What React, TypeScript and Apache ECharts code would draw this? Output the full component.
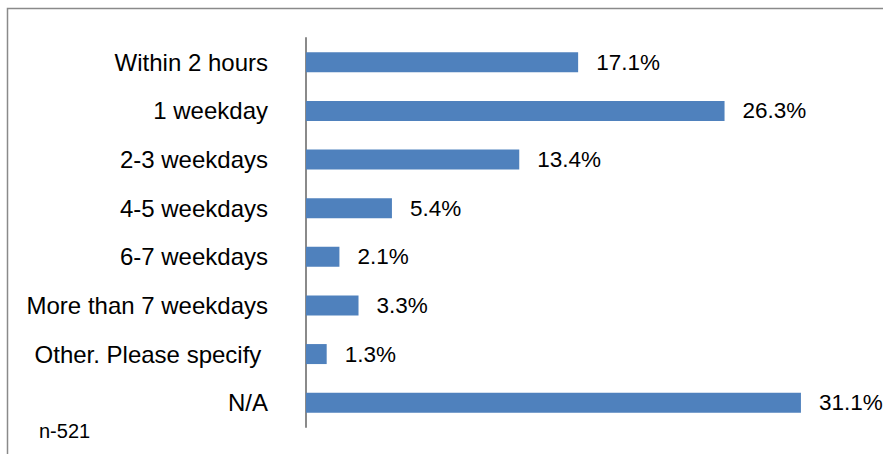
import React, { useEffect, useRef } from "react";
import * as echarts from "echarts";

const categories = [
  "Within 2 hours",
  "1 weekday",
  "2-3 weekdays",
  "4-5 weekdays",
  "6-7 weekdays",
  "More than 7 weekdays",
  "Other. Please specify ",
  "N/A",
];
const values = [17.1, 26.3, 13.4, 5.4, 2.1, 3.3, 1.3, 31.1];
const noteText = "n-521";

const FONT = '"Liberation Sans", Arial, sans-serif';

export default function App() {
  const ref = useRef<HTMLDivElement>(null);
  useEffect(() => {
    if (!ref.current) return;
    const chart = echarts.init(ref.current, null, { renderer: "svg" });
    chart.setOption({
      animation: false,
      backgroundColor: "#ffffff",
      textStyle: { fontFamily: FONT },
      grid: { left: 306, top: 38, height: 389, width: 557 },
      xAxis: {
        type: "value",
        min: 0,
        max: 35,
        show: false,
      },
      yAxis: {
        type: "category",
        data: categories,
        inverse: true,
        axisLine: { show: true, lineStyle: { color: "#8a8a8a", width: 2 } },
        axisTick: { show: false },
        axisLabel: {
          fontSize: 24,
          color: "#000000",
          margin: 38,
          fontFamily: FONT,
        },
        splitLine: { show: false },
      },
      series: [
        {
          type: "bar",
          data: values,
          barWidth: 20,
          itemStyle: { color: "#4f81bd" },
          label: {
            show: true,
            position: "right",
            distance: 18,
            fontSize: 22.5,
            color: "#000000",
            fontFamily: FONT,
            formatter: (p: any) => p.value.toFixed(1) + "%",
          },
        },
      ],
      graphic: [
        {
          type: "rect",
          shape: { x: 7.5, y: 8.5, width: 900, height: 500 },
          style: { fill: "none", stroke: "#8a8a8a", lineWidth: 1.5 },
          silent: true,
        },
        {
          type: "text",
          left: 39,
          top: 421,
          style: {
            text: noteText,
            fontSize: 20,
            fill: "#000000",
            fontFamily: FONT,
          },
        },
      ],
    });
    return () => chart.dispose();
  }, []);
  return (
    <div
      ref={ref}
      style={{ position: "absolute", left: 0, top: 0, width: 883, height: 454 }}
    />
  );
}
